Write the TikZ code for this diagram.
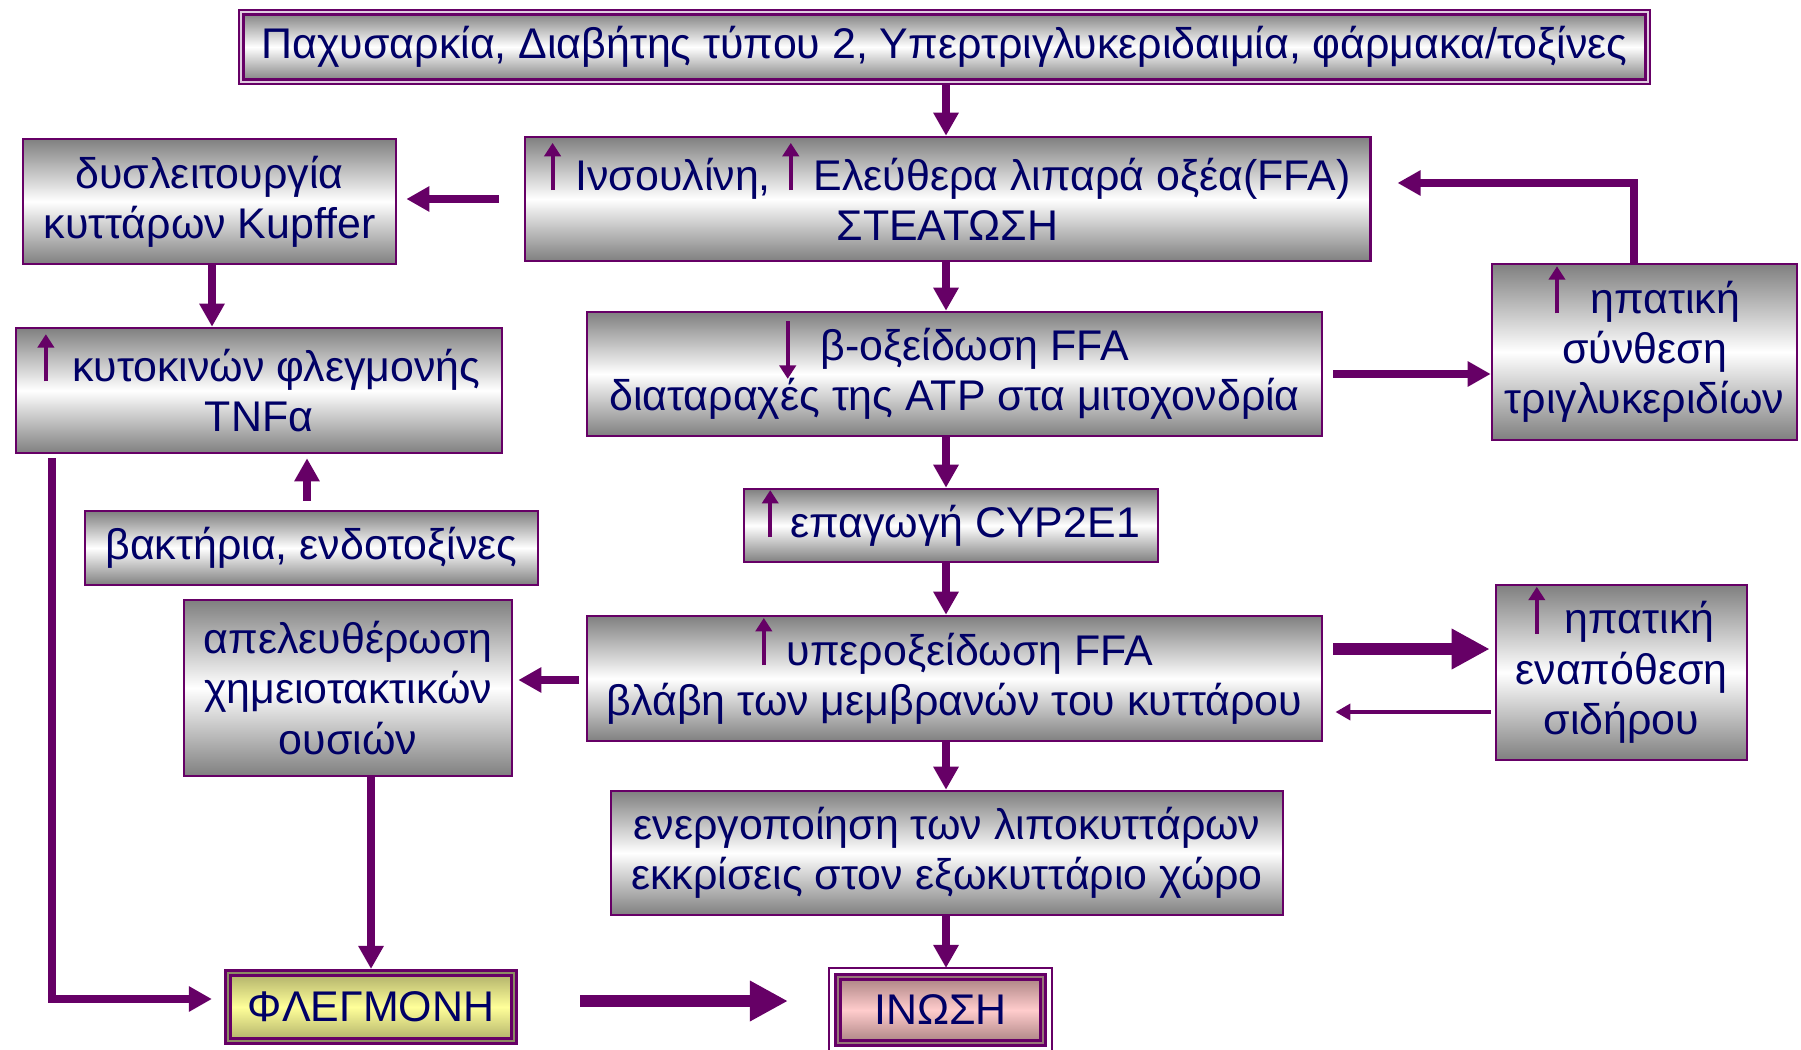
\documentclass[tikz,border=0pt]{standalone}
\usepackage{fontspec}
\setmainfont{Liberation Sans}
\usetikzlibrary{arrows.meta}

\definecolor{grape}{RGB}{102,0,102}
\definecolor{inkblue}{RGB}{0,0,102}
\definecolor{khakiline}{RGB}{140,140,100}
\definecolor{rosyline}{RGB}{150,120,120}
\definecolor{lemon}{RGB}{255,255,153}
\definecolor{darklemon}{RGB}{175,175,105}
\definecolor{blush}{RGB}{255,204,204}
\definecolor{darkblush}{RGB}{170,130,130}

\newcommand\bxfont{\fontsize{12.2pt}{14.3pt}\selectfont}
\newcommand\upar[1][0pt]{\smash{\tikz[baseline=0pt]\draw[grape,line width=1.1pt,-{Triangle[length=3.8pt,width=4.6pt]}] (0pt,0pt) -- (0pt,13.4pt);}\hspace{#1}}
\newcommand\dnar[1][0pt]{\smash{\tikz[baseline=0pt]\draw[grape,line width=1.1pt,-{Triangle[length=3.8pt,width=4.6pt]}] (0pt,11.2pt) -- (0pt,-5.2pt);}\hspace{#1}}

\begin{document}
\begin{tikzpicture}[x=0.01cm,y=-0.01cm,
  box/.style={draw=grape,line width=0.7pt,top color=gray,bottom color=gray,middle color=white,
    text=inkblue,font=\bxfont,align=center,inner sep=0pt},
  endbox/.style={draw=grape,line width=0.03cm,double distance=0.02cm,outer sep=0pt,
    text=inkblue,font=\bxfont,inner sep=0pt},
  arr/.style={draw=grape,line width=0.08cm,-{Triangle[length=0.23cm,width=0.24cm]}},
  bigarr/.style={draw=grape,line width=0.12cm,-{Triangle[length=0.38cm,width=0.38cm]}},
  thinarr/.style={draw=grape,line width=0.04cm,-{Triangle[length=0.15cm,width=0.16cm]}}]
\useasboundingbox (0,0) rectangle (1801,1049);

\node[box,double=white!80!grape,double distance=0.02cm,line width=0.025cm,
  minimum width=14.06cm,minimum height=0.69cm] (top) at (944.5,47)
  {Παχυσαρκία, Διαβήτης τύπου 2, Υπερτριγλυκεριδαιμία, φάρμακα/τοξίνες};
\node[box,minimum width=8.45cm,minimum height=1.24cm] (ins) at (947.5,199)
  {\upar[0.8pt]\ Ινσουλίνη, \upar[0.8pt]\ Ελεύθερα λιπαρά οξέα(FFA)\\ΣΤΕΑΤΩΣΗ};
\node[box,minimum width=3.73cm,minimum height=1.25cm] (kupf) at (209.5,201.5)
  {δυσλειτουργία\\κυττάρων Kupffer};
\node[box,minimum width=4.86cm,minimum height=1.25cm] (cyto) at (259,390.5)
  {\upar[1.8pt]\ κυτοκινών φλεγμονής\\TNFα};
\node[box,minimum width=4.53cm,minimum height=0.74cm] (bact) at (311.5,548)
  {βακτήρια, ενδοτοξίνες};
\node[box,minimum width=3.28cm,minimum height=1.76cm] (chemo) at (348,688)
  {απελευθέρωση\\χημειοτακτικών\\ουσιών};
\node[box,minimum width=7.35cm,minimum height=1.24cm] (beta) at (954.5,374)
  {\dnar[3.6pt]\ β-οξείδωση FFA\\διαταραχές της ATP στα μιτοχονδρία};
\node[box,minimum width=3.05cm,minimum height=1.76cm] (trig) at (1644.5,352)
  {\upar[3.9pt]\ ηπατική\\σύνθεση\\τριγλυκεριδίων};
\node[box,minimum width=4.14cm,minimum height=0.73cm] (cyp) at (951,525.5)
  {\upar\ επαγωγή CYP2E1};
\node[box,minimum width=7.35cm,minimum height=1.25cm] (hyper) at (954.5,678.5)
  {\upar[0.8pt]\ υπεροξείδωση FFA\\βλάβη των μεμβρανών του κυττάρου};
\node[box,minimum width=2.51cm,minimum height=1.75cm] (iron) at (1621.5,672.5)
  {\upar[2.3pt]\ ηπατική\\εναπόθεση\\σιδήρου};
\node[box,minimum width=6.72cm,minimum height=1.24cm] (lipo) at (947,853)
  {ενεργοποίηση των λιποκυττάρων\\εκκρίσεις στον εξωκυττάριο χώρο};
\node[endbox,double=khakiline,top color=darklemon,bottom color=darklemon,middle color=lemon,
  minimum width=2.86cm,minimum height=0.68cm] (fleg) at (371,1007) {ΦΛΕΓΜΟΝΗ};
\node[endbox,double=rosyline,top color=darkblush,bottom color=darkblush,middle color=blush,
  minimum width=2.05cm,minimum height=0.66cm] (inosi) at (940.5,1010) {ΙΝΩΣΗ};
\draw[grape,line width=0.015cm] ([shift={(-0.09cm,0.09cm)}]inosi.north west)
  rectangle ([shift={(0.09cm,-0.09cm)}]inosi.south east);

\coordinate (spine) at (946,0);
\coordinate (kx) at (212,0);
\coordinate (bx) at (307,0);
\coordinate (cx) at (371,0);
\coordinate (fb) at (1634,183);
\coordinate (lc) at (52,999);
\coordinate (fe) at (0,649);
\coordinate (fi) at (0,712);
\coordinate (ce) at (0,680);
\coordinate (fy) at (0,1001);

% main column
\draw[arr] (top.south -| spine) -- (ins.north -| spine);
\draw[arr] (ins.south -| spine) -- (beta.north -| spine);
\draw[arr] (beta.south -| spine) -- (cyp.north -| spine);
\draw[arr] (cyp.south -| spine) -- (hyper.north -| spine);
\draw[arr] (hyper.south -| spine) -- (lipo.north -| spine);
\draw[arr,shorten >=0.09cm] (lipo.south -| spine) -- (inosi.north -| spine);

\draw[arr,shorten <=0.25cm,shorten >=0.09cm] (ins.west) -- (kupf.east |- ins.west);
\draw[arr] (kupf.south -| kx) -- (cyto.north -| kx);
\draw[arr,shorten <=0.1cm] (beta.east) -- (trig.west |- beta.east);
\draw[arr,shorten >=0.26cm] (trig.north -| fb) -- (fb) -- (fb -| ins.east);
\draw[bigarr,shorten <=0.1cm,shorten >=0.05cm] (hyper.east |- fe) -- (iron.west |- fe);
\draw[thinarr,shorten <=0.04cm,shorten >=0.12cm] (iron.west |- fi) -- (hyper.east |- fi);
\draw[arr,shorten <=0.07cm,shorten >=0.05cm] (hyper.west |- ce) -- (chemo.east |- ce);
\draw[arr,shorten <=0.09cm,shorten >=0.04cm] (bact.north -| bx) -- (cyto.south -| bx);
\draw[arr,shorten <=0.04cm,shorten >=0.16cm] (cyto.south -| lc) -- (lc) -- (lc -| fleg.west);
\draw[arr,shorten >=0.04cm] (chemo.south -| cx) -- (fleg.north -| cx);
\draw[bigarr,shorten <=0.66cm,shorten >=0.5cm] (fleg.east |- fy) -- (inosi.west |- fy);
\end{tikzpicture}
\end{document}
